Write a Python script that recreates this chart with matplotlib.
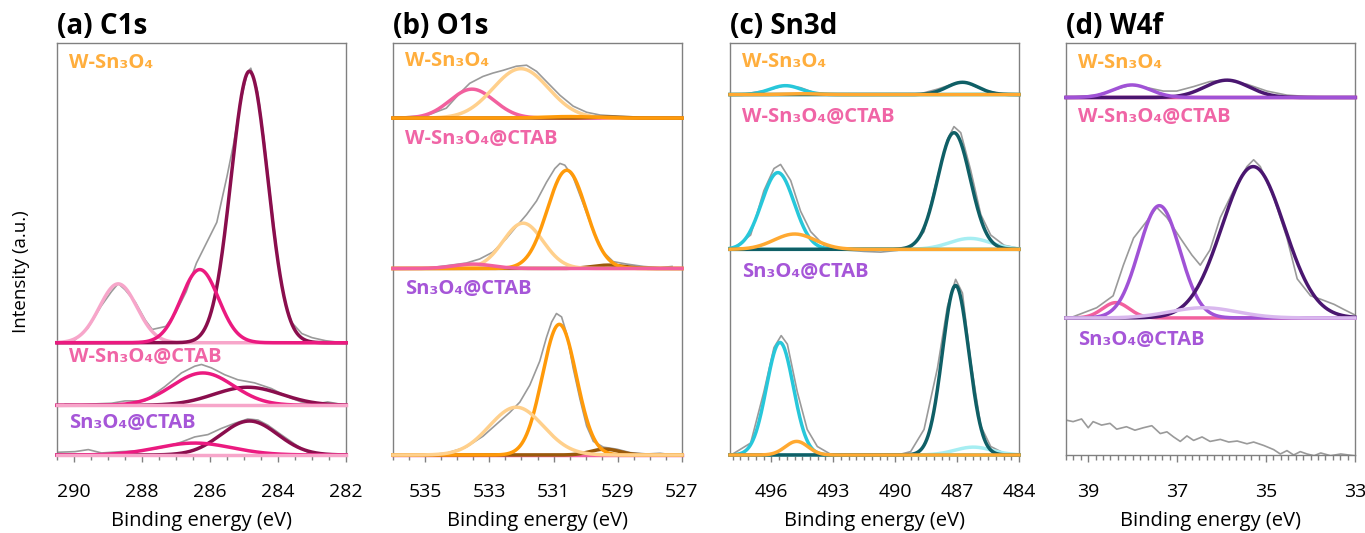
import numpy as np
import matplotlib.pyplot as plt
import matplotlib.transforms as mtransforms
from matplotlib.ticker import MultipleLocator

plt.rcParams['font.family'] = ['Open Sans', 'DejaVu Sans']

samples = ['W-Sn₃O₄', 'W-Sn₃O₄@CTAB', 'Sn₃O₄@CTAB']
sample_colors = ['#FFAE3D', '#F065A6', '#A656D8']
raw_color = '#9A9A9A'

# fitted components: centre (eV), height, sigma (eV), one row per sample
# C1s: [O-C=O, C-O, C-C]
c1s_colors = ['#F7A6CA', '#EB1A80', '#8A0E4D']
c1s_center = [[288.70, 286.30, 284.84], [288.70, 286.21, 284.89], [288.70, 286.45, 284.84]]
c1s_height = [[57.7, 71.7, 266.0], [0.0, 31.7, 17.7], [0.0, 11.7, 33.3]]
c1s_sigma = [[0.55, 0.55, 0.54], [0.60, 0.90, 1.00], [0.60, 1.10, 0.83]]
c1s_order = [[0, 2, 1], [2, 1, 0], [2, 1, 0]]

# O1s: [O-H, O vacancy, lattice O, W-O]
o1s_colors = ['#F2609E', '#FFD08C', '#FF9A0A', '#9A5A0B']
o1s_center = [[533.54, 532.02, 530.50, 529.30], [533.50, 531.95, 530.59, 529.29], [533.50, 532.16, 530.82, 529.40]]
o1s_height = [[28.3, 48.3, 1.5, 1.0], [4.3, 44.3, 96.0, 3.3], [0.0, 46.7, 127.7, 5.7]]
o1s_sigma = [[0.69, 0.86, 0.80, 0.50], [0.60, 0.62, 0.60, 0.50], [0.60, 0.84, 0.53, 0.45]]
o1s_order = [[0, 1, 3, 2], [3, 1, 2, 0], [0, 3, 2, 1]]

# Sn3d: [Sn2+ 3d5/2, Sn4+ 3d3/2, Sn4+ 3d5/2, Sn2+ 3d3/2]
sn3d_colors = ['#A6EEF2', '#27C7DA', '#0F5F66', '#FFA931']
sn3d_center = [[486.30, 495.31, 486.74, 494.50], [486.37, 495.68, 487.15, 494.87], [486.21, 495.58, 487.07, 494.77]]
sn3d_height = [[0.5, 8.7, 12.0, 0.8], [10.7, 75.0, 114.0, 15.0], [7.7, 110.0, 165.7, 13.3]]
sn3d_sigma = [[0.90, 0.75, 0.75, 0.80], [1.00, 0.79, 0.79, 1.00], [0.90, 0.65, 0.64, 0.55]]
sn3d_order = [[0, 1, 2, 3], [0, 1, 2, 3], [0, 1, 2, 3]]

# W4f: [W5+, W6+ 4f5/2, W6+ 4f7/2, W satellite]
w4f_colors = ['#F2609E', '#A052D6', '#4A1670', '#D9B8EE']
w4f_center = [[38.40, 38.02, 35.88, 36.40], [38.38, 37.40, 35.29, 36.41], [38.40, 37.40, 35.30, 36.40]]
w4f_height = [[0.0, 12.3, 17.0, 0.0], [15.0, 110.0, 148.3, 10.0], [0.0, 0.0, 0.0, 0.0]]
w4f_sigma = [[0.30, 0.42, 0.50, 0.75], [0.30, 0.46, 0.70, 0.75], [0.30, 0.46, 0.70, 0.75]]
w4f_order = [[3, 0, 2, 1], [0, 1, 2, 3], []]

# measured spectra
c1s_e_w = [290.4, 290.0, 289.6, 289.2, 288.9, 288.7, 288.5, 288.2, 287.9, 287.7, 287.3, 287.0, 286.7,
           286.4, 286.1, 285.8, 285.5, 285.3, 285.1, 284.9, 284.8, 284.6, 284.4, 284.2, 284.0, 283.8,
           283.6, 283.3, 283.0, 282.6, 282.1]
c1s_i_w = [0, 2, 14, 36, 50, 58, 52, 40, 22, 13, 16, 30, 50, 78, 98, 118, 163, 196, 236, 265, 269, 246,
           196, 136, 80, 40, 20, 9, 5, 2, 0]
c1s_e_wc = [290.26, 289.8, 289.3, 288.9, 288.5, 287.92, 287.33, 286.84, 286.45, 286.25, 285.96, 285.57,
            285.18, 284.69, 284.20, 283.71, 283.32, 282.93, 282.54, 282.15]
c1s_i_wc = [1, 0.5, 1.5, 2, 4.3, 4.3, 18.3, 31.7, 38.3, 40, 36.7, 30, 25, 22, 16.5, 8.3, 3.3, 1, 3.3, 1]
c1s_e_sc = [290.46, 289.97, 289.58, 289.19, 288.60, 288.01, 287.62, 287.23, 286.84, 286.45, 286.06,
            285.67, 285.28, 284.89, 284.59, 284.30, 283.91, 283.52, 283.13, 282.73, 282.15]
c1s_i_sc = [2.7, 3.3, 5.3, 2, 3.3, 4.3, 6, 8.7, 12.7, 17.7, 20, 26, 31, 35.3, 34.3, 29.3, 20, 11, 2.7, 0, 0]

o1s_e_w = [535.91, 534.97, 534.34, 533.93, 533.61, 533.20, 532.89, 532.57, 532.16, 531.84, 531.53,
           531.22, 530.80, 530.39, 529.97, 529.55, 528.93, 528.09, 527.26]
o1s_i_w = [0.7, 2.3, 9.7, 24, 34, 40.7, 44, 46.7, 50.7, 51.7, 45.7, 35.7, 22.3, 11.7, 5.7, 3, 1.7, 0.7, 0.7]
o1s_e_wc = [535.07, 534.34, 533.72, 533.30, 532.89, 532.47, 532.16, 531.84, 531.53, 531.22, 530.96,
            530.80, 530.65, 530.39, 530.07, 529.76, 529.45, 529.14, 528.72, 528.20, 527.68, 527.31]
o1s_i_wc = [0, 2.7, 5.3, 9.3, 16, 29.3, 41, 52.7, 66, 84.3, 97.7, 102.7, 101, 89.3, 62.7, 36, 16, 6.7,
            4.3, 2, 0.7, 2]
o1s_e_sc = [535.07, 534.34, 533.72, 533.20, 532.78, 532.36, 532.05, 531.74, 531.43, 531.22, 531.06,
            530.91, 530.75, 530.59, 530.39, 530.18, 529.97, 529.76, 529.45, 529.03, 528.61, 528.09,
            527.68, 527.26]
o1s_i_sc = [0, 1.7, 7.7, 18.3, 30, 41.7, 51.7, 68.3, 91.7, 115, 130, 138.3, 135, 118.3, 85, 55, 28.3,
            13.3, 7.7, 5.7, 2.3, 1, 1.7, 0]

sn3d_e_w = [497.24, 496.19, 495.31, 494.58, 493.93, 493.12, 488.92, 487.95, 486.99, 486.50, 485.69, 484.89]
sn3d_i_w = [0.7, 4.3, 9, 6.7, 2, 0, 0, 5.3, 11.7, 11.3, 4.3, 0.7]
sn3d_e_wc = [497.81, 497.00, 496.36, 495.87, 495.55, 495.06, 494.58, 494.09, 493.45, 492.64, 491.51,
             490.70, 489.89, 489.25, 488.60, 487.95, 487.47, 487.15, 486.82, 486.34, 485.85, 485.37,
             484.72, 484.08]
sn3d_i_wc = [1.3, 14, 57.3, 79, 83, 67.3, 37.3, 17.3, 4, -0.3, -2, -2.7, -1, 1.3, 17.3, 70.7, 107.3,
             120, 114, 77.3, 34, 14, 4, 1.3]
sn3d_e_sc = [497.81, 497.00, 496.36, 495.87, 495.52, 495.22, 494.74, 494.26, 493.77, 493.12, 491.83,
             489.89, 489.25, 488.60, 487.95, 487.47, 487.07, 486.74, 486.34, 485.85, 485.37, 484.72,
             484.08]
sn3d_i_sc = [1.7, 11.7, 61.7, 105, 116.7, 108.3, 61.7, 25, 8.3, 0.7, 0, 0, 3.3, 25, 85, 145, 171.7,
             158.3, 91.7, 28.3, 8.3, 1.7, 0]

w4f_e_w = [39.49, 38.81, 38.36, 38.02, 37.68, 37.31, 37.01, 36.63, 36.26, 35.88, 35.43, 34.98, 34.53,
           34.08, 33.02]
w4f_i_w = [0, 2.3, 8.3, 12.3, 9.7, 6.3, 6.3, 10.7, 15.7, 17, 13, 6.3, 2.3, 1, 0]
w4f_e_wc = [39.41, 38.81, 38.44, 38.21, 37.98, 37.68, 37.46, 37.23, 36.93, 36.67, 36.48, 36.26, 36.03,
            35.73, 35.43, 35.28, 35.13, 34.83, 34.53, 34.30, 34.00, 33.77, 33.47, 33.25, 33.02]
w4f_i_wc = [0, 10, 21.7, 51.7, 78.3, 95, 108.3, 98.3, 78.3, 61.7, 51.7, 66.7, 98.3, 125, 148.3, 155,
            148.3, 118.3, 78.3, 38.3, 21.7, 18.3, 13.3, 8.3, 3.3]
w4f_e_sc = [39.51, 39.34, 39.15, 39.00, 38.89, 38.70, 38.51, 38.36, 38.14, 37.95, 37.76, 37.57, 37.38,
            37.23, 37.08, 36.93, 36.78, 36.63, 36.44, 36.26, 36.03, 35.84, 35.65, 35.43, 35.28, 35.05,
            34.83, 34.68, 34.53, 34.38, 34.23, 34.08, 33.92, 33.77, 33.55, 33.32, 33.02]
w4f_i_sc = [34.3, 32.7, 35.3, 26.7, 32.7, 29.3, 31, 25.3, 27.7, 24.3, 26.7, 28.7, 21, 22.7, 17.7, 13.3,
            18.7, 14.3, 17.7, 13.3, 15.3, 12.7, 13.7, 11, 12.7, 9.3, 5.3, 1, 4.3, 0, 3.3, 1, -0.7, 2,
            -0.7, 1, -0.7]


def peak(e, c, h, s):
    return h * np.exp(-(e - c) ** 2 / (2 * s ** 2))


def draw_panel(ax, title, xlim, major, minor, ticks_at, ytop, offsets, label_y, raws,
               colors, centers, heights, sigmas, orders):
    e = np.linspace(xlim[0], xlim[1], 900)
    trans = mtransforms.blended_transform_factory(ax.transAxes, ax.transData)
    for k in range(3):
        ax.plot(raws[k][0], np.array(raws[k][1]) + offsets[k], color=raw_color, lw=1.2, zorder=2)
        for j in orders[k]:
            ax.plot(e, peak(e, centers[k][j], heights[k][j], sigmas[k][j]) + offsets[k],
                    color=colors[j], lw=2.5, zorder=3, clip_on=False)
        ax.text(0.042, label_y[k], samples[k], transform=trans, color=sample_colors[k],
                fontsize=14.5, fontweight='bold', va='center', ha='left')

    ax.set_xlim(*xlim)
    ax.set_ylim(0, ytop)
    ax.set_yticks([])
    # labelled ticks sit on ticks_at, minor ticks share the same origin
    ax.xaxis.set_major_locator(MultipleLocator(major, offset=ticks_at % major))
    ax.xaxis.set_minor_locator(MultipleLocator(minor, offset=ticks_at % minor))
    ax.tick_params(axis='x', which='major', direction='out', length=5, width=1,
                   color='#808080', labelsize=14, pad=15)
    ax.tick_params(axis='x', which='minor', direction='out', length=3.5, width=1, color='#808080')
    for sp in ax.spines.values():
        sp.set_color('#808080')
        sp.set_linewidth(1.0)
    ax.set_xlabel('Binding energy (eV)', fontsize=14.5, labelpad=7.5)
    ax.text(0.0, 1.004, title, transform=ax.transAxes, fontsize=20, fontweight='bold',
            ha='left', va='bottom')


fig = plt.figure(figsize=(13.65, 5.33), dpi=100)
W, H = 1365.0, 533.0
lefts = [57, 393, 730, 1066]
axes = [fig.add_axes([l / W, 1 - 455 / H, 289 / W, 412 / H]) for l in lefts]

draw_panel(axes[0], '(a) C1s', (290.5, 282), 2, 0.5, 290, 403.7, [110, 48.7, 0], [384, 96, 31],
           [(c1s_e_w, c1s_i_w), (c1s_e_wc, c1s_i_wc), (c1s_e_sc, c1s_i_sc)],
           c1s_colors, c1s_center, c1s_height, c1s_sigma, c1s_order)
draw_panel(axes[1], '(b) O1s', (536.0, 527), 2, 0.5, 535, 402.7, [329.3, 182.3, 0], [385, 309, 162],
           [(o1s_e_w, o1s_i_w), (o1s_e_wc, o1s_i_wc), (o1s_e_sc, o1s_i_sc)],
           o1s_colors, o1s_center, o1s_height, o1s_sigma, o1s_order)
draw_panel(axes[2], '(c) Sn3d', (498.0, 484), 3, 0.375, 496, 402.7, [352.3, 201, 0], [384, 330, 179],
           [(sn3d_e_w, sn3d_i_w), (sn3d_e_wc, sn3d_i_wc), (sn3d_e_sc, sn3d_i_sc)],
           sn3d_colors, sn3d_center, sn3d_height, sn3d_sigma, sn3d_order)
draw_panel(axes[3], '(d) W4f', (39.5, 33), 2, 1 / 6, 39, 403.7, [350.3, 134.3, 0], [384, 331, 113],
           [(w4f_e_w, w4f_i_w), (w4f_e_wc, w4f_i_wc), (w4f_e_sc, w4f_i_sc)],
           w4f_colors, w4f_center, w4f_height, w4f_sigma, w4f_order)

fig.text(21 / W, 1 - 272 / H, 'Intensity (a.u.)', rotation=90, fontsize=13.5,
         ha='center', va='center')

fig.savefig('out.png', dpi=100)
